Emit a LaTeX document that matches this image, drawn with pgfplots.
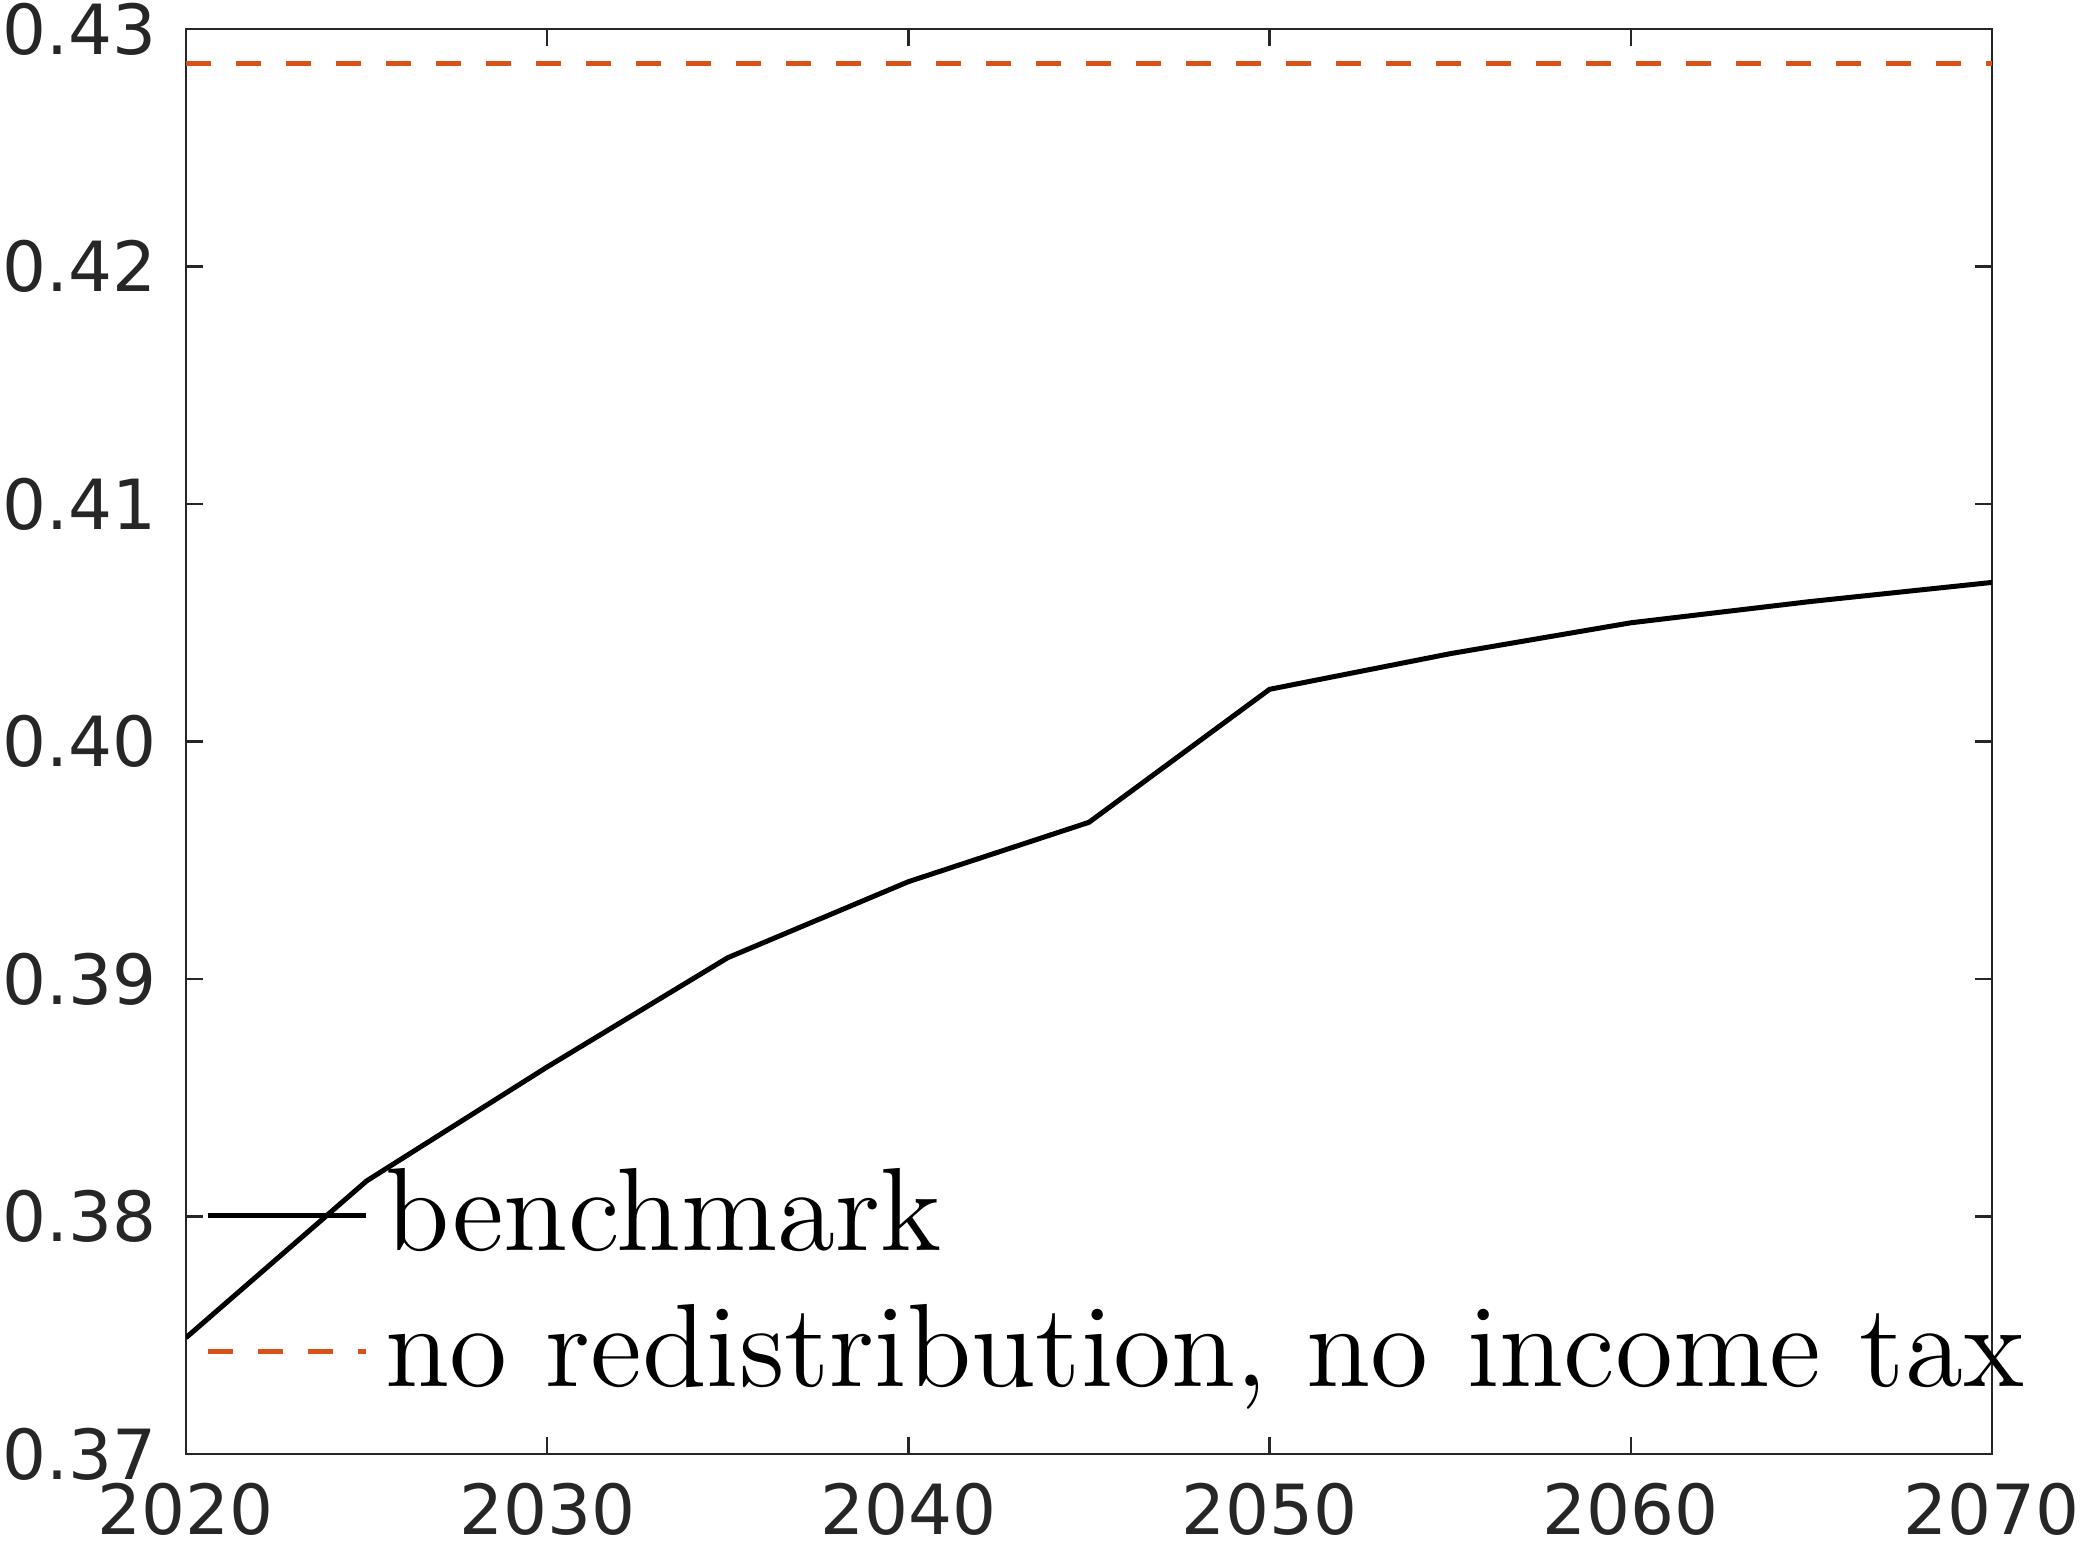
\documentclass[border=0pt]{standalone}
\usepackage{pgfplots}
\pgfplotsset{compat=1.18}
\usepackage{fontspec}
\newfontfamily\dejavu{DejaVu Sans}
\definecolor{myorange}{RGB}{217,83,25}
\definecolor{tickgray}{RGB}{38,38,38}
\begin{document}
\begin{tikzpicture}
\begin{axis}[name=ax, at={(0,0)}, anchor=south west, scale only axis,
  width=216.7pt, height=171pt,
  xmin=2020, xmax=2070, ymin=0.37, ymax=0.43,
  xtick={2020,2030,...,2070}, ytick={0.37,0.38,...,0.43},
  yticklabel style={/pgf/number format/.cd,fixed,fixed zerofill,precision=2,assume math mode=true},
  xticklabel style={/pgf/number format/.cd,1000 sep={},assume math mode=true},
  tick label style={font=\dejavu\fontsize{8.3}{9}\selectfont, text=tickgray},
  tick align=inside, major tick length=2pt, tick style={tickgray, line width=0.3pt},
  axis line style={tickgray, line width=0.3pt},
  legend style={draw=none, fill=none, at={(0.005,0.02)}, anchor=south west,
    font=\fontsize{14.2}{16}\selectfont, row sep=1pt, inner sep=1pt,
    /tikz/every even column/.append style={column sep=1pt}},
  legend cell align=left,
  legend image code/.code={\draw[#1] (0pt,0pt) -- (19pt,0pt);},
]
\addplot[black, line width=0.6pt] coordinates {
(2020,0.3749) (2025,0.3815) (2030,0.3863) (2035,0.3909) (2040,0.3941)
(2045,0.3966) (2050,0.4022) (2055,0.4037) (2060,0.4050) (2065,0.4059) (2070,0.4067)};
\addlegendentry{benchmark}
\addplot[myorange, dashed, line width=0.6pt] coordinates {(2020,0.42856) (2070,0.42856)};
\addlegendentry{no redistribution, no income tax}
\end{axis}
\pgfresetboundingbox
\path (ax.south west)+(-22.32pt,-12pt) coordinate (a);
\path (ax.north east)+(10.8pt,3.48pt) coordinate (b);
\useasboundingbox (a) rectangle (b);
\end{tikzpicture}
\end{document}
